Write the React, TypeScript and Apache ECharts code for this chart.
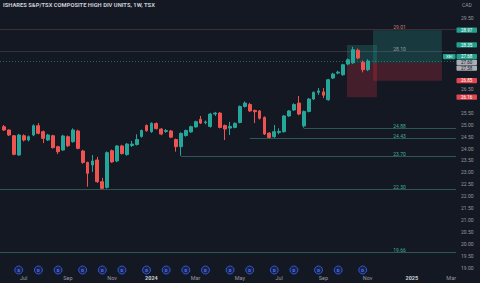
import React, { useEffect, useRef } from 'react';
import * as echarts from 'echarts';

// ---------- data ----------
const TITLE = 'ISHARES S&P/TSX COMPOSITE HIGH DIV UNITS, 1W, TSX';
const SYMBOL = 'XEI';
const CURRENCY = 'CAD';
const FIRST_BAR_UTC = Date.UTC(2023, 5, 5); // weekly bars, Monday
const TOTAL_BARS = 92; // includes future empty weeks

const opens = [
  24.92, 24.78, 24.54, 23.73, 24.54, 24.36, 24.57, 24.96, 24.71, 24.36,
  24.54, 24.08, 23.94, 24.50, 24.29, 24.74, 23.90, 23.42, 23.31, 23.52,
  22.61, 22.37, 23.91, 23.48, 24.11, 23.75, 24.13, 24.17, 24.51, 24.97,
  24.71, 25.05, 24.82, 24.72, 24.74, 24.38, 24.08, 24.55, 24.70, 24.91,
  25.23, 25.09, 24.93, 25.45, 25.49, 24.97, 24.86, 24.89, 25.10, 25.77,
  25.85, 25.60, 25.58, 25.31, 24.65, 24.50, 24.68, 24.71, 25.37, 25.62,
  25.91, 24.95, 25.56, 26.08, 26.36, 26.38, 26.05, 26.96, 27.17, 27.10,
  27.55, 27.60, 28.13, 27.62, 27.31,
];
const closes = [
  24.78, 24.57, 23.76, 24.57, 24.36, 24.50, 24.96, 24.64, 24.43, 24.57,
  24.04, 23.87, 24.53, 24.12, 24.78, 24.01, 23.42, 22.96, 23.48, 22.61,
  22.33, 23.83, 23.44, 24.11, 23.79, 24.19, 24.19, 24.38, 24.76, 24.75,
  25.06, 24.84, 24.61, 24.76, 24.48, 24.08, 24.64, 24.76, 24.92, 25.13,
  25.07, 25.12, 25.45, 25.49, 24.89, 24.82, 24.93, 25.06, 25.77, 25.91,
  25.58, 25.55, 25.27, 24.61, 24.47, 24.71, 24.72, 25.37, 25.58, 25.85,
  25.45, 25.56, 26.08, 26.36, 26.42, 26.24, 26.89, 27.13, 27.21, 27.52,
  27.73, 28.15, 27.80, 27.31, 27.68,
];
const lows = [
  24.74, 24.53, 23.72, 23.70, 24.30, 24.30, 24.52, 24.60, 24.23, 24.32,
  24.00, 23.77, 23.90, 24.06, 24.25, 23.97, 23.36, 22.40, 23.02, 22.56,
  22.30, 22.32, 23.40, 23.43, 23.75, 23.70, 24.07, 24.13, 24.46, 24.71,
  24.66, 24.80, 24.56, 24.66, 24.44, 23.87, 23.70, 24.50, 24.66, 24.88,
  25.03, 25.02, 24.88, 25.37, 24.85, 24.36, 24.57, 24.85, 25.06, 25.72,
  25.54, 25.07, 25.22, 24.57, 24.43, 24.45, 24.60, 24.67, 25.33, 25.58,
  25.40, 24.88, 25.52, 26.04, 26.25, 26.12, 26.01, 26.92, 27.12, 27.06,
  27.50, 27.56, 27.75, 27.20, 27.25,
];
const highs = [
  24.99, 24.80, 24.57, 24.62, 24.60, 24.55, 25.02, 25.07, 24.76, 24.62,
  24.58, 24.12, 24.58, 24.55, 24.85, 24.80, 23.95, 23.45, 23.73, 23.65,
  22.77, 23.88, 23.96, 24.15, 24.16, 24.23, 24.32, 24.60, 24.80, 25.01,
  25.10, 25.10, 24.86, 24.82, 24.78, 24.42, 24.68, 24.80, 24.96, 25.17,
  25.37, 25.18, 25.50, 25.54, 25.53, 25.01, 25.12, 25.10, 25.81, 25.98,
  25.92, 25.64, 25.62, 25.35, 24.69, 24.99, 24.85, 25.41, 25.62, 25.90,
  26.21, 25.60, 26.12, 26.40, 26.54, 26.54, 26.93, 27.18, 27.27, 27.56,
  27.78, 28.27, 28.20, 27.70, 27.75,
];

// bars carrying a dividend marker
const dividendBars = [3, 7, 11, 16, 20, 24, 29, 33, 37, 41, 46, 50, 55, 59, 64, 68, 73];

// price scale ticks
const priceTicks = [
  19.0, 19.5, 20.0, 20.5, 21.0, 21.5, 22.0, 22.5, 23.0, 23.5, 24.0,
  24.5, 25.0, 25.5, 26.0, 26.5, 27.0, 27.5, 28.0, 28.5, 29.0, 29.5,
];

// horizontal levels drawn on the chart
const levelValues = [29.01, 28.10, 24.88, 24.43, 23.70, 22.30, 19.66];
const levelStartBars = [-1, -1, 61, 50, 36, -1, -1];
const levelKinds = ['resist', 'neutral', 'support', 'support', 'support', 'support', 'support'];

// long-position tools
const positionStartBars = [69.8, 75.1];
const positionEndBars = [75.9, 89.1];
const positionEntries = [27.58, 27.60];
const positionTargets = [28.35, 28.97];
const positionStops = [26.16, 26.85];

// ---------- style ----------
const BG = '#141823';
const UP = '#26a69a';
const DOWN = '#ef5350';
const AXIS_TXT = '#9598a1';
const FONT = 'Roboto, "Liberation Sans", sans-serif';
const X_MIN = -0.814;
const X_MAX = 91.98;
const Y_MIN = 18.777;
const Y_MAX = 30.238;
const LABEL_BAR = 79.2;

const MONTHS = ['Jan', 'Feb', 'Mar', 'Apr', 'May', 'Jun', 'Jul', 'Aug', 'Sep', 'Oct', 'Nov', 'Dec'];

export default function App() {
  const ref = useRef<HTMLDivElement>(null);

  useEffect(() => {
    const el = ref.current!;
    const chart = echarts.init(el, null, { renderer: 'svg' });

    const dates = Array.from({ length: TOTAL_BARS }, (_, i) => new Date(FIRST_BAR_UTC + i * 7 * 86400000));
    const monthTicks: number[] = [];
    for (let i = 1; i < dates.length; i++) {
      const m = dates[i].getUTCMonth();
      if (m !== dates[i - 1].getUTCMonth() && m % 2 === 0) monthTicks.push(i);
    }

    const candles = opens.map((o, i) => [i, o, closes[i], lows[i], highs[i]]);

    const yAxisBase = {
      type: 'value',
      position: 'right',
      min: Y_MIN,
      max: Y_MAX,
      axisLine: { show: false },
      axisTick: { show: false },
      splitLine: { show: false },
    };

    chart.setOption({
      animation: false,
      backgroundColor: BG,
      textStyle: { fontFamily: FONT },
      grid: { left: 0, right: 24, top: 0, bottom: 10 },
      xAxis: {
        type: 'value',
        min: X_MIN,
        max: X_MAX,
        axisLine: { show: false },
        axisTick: { show: false },
        splitLine: { show: false },
        axisLabel: {
          customValues: monthTicks,
          margin: 2,
          color: AXIS_TXT,
          fontSize: 5.5,
          fontFamily: FONT,
          formatter: (v: number) => {
            const d = dates[Math.round(v)];
            const m = d.getUTCMonth();
            return m === 0 ? `{yr|${d.getUTCFullYear()}}` : MONTHS[m];
          },
          rich: { yr: { fontWeight: 'bold', color: '#c9ccd4', fontSize: 5.5, fontFamily: FONT } },
        },
      },
      yAxis: { ...yAxisBase, axisLabel: { show: false } },
      series: [
        {
          type: 'candlestick',
          data: candles,
          barWidth: 3.3,
          itemStyle: {
            color: UP,
            color0: DOWN,
            borderColor: UP,
            borderColor0: DOWN,
            borderWidth: 1,
          },
        },
      ],
    });

    const px = (i: number, v: number) => chart.convertToPixel({ gridIndex: 0 }, [i, v]) as number[];
    const rightEdge = px(X_MAX, Y_MIN)[0];
    const leftEdge = px(X_MIN, Y_MIN)[0];
    const bottomEdge = px(X_MIN, Y_MIN)[1];
    const labelX = px(LABEL_BAR, Y_MIN)[0];
    const els: any[] = [];

    // position boxes
    positionStartBars.forEach((s, k) => {
      const [x1, yT] = px(s, positionTargets[k]);
      const [x2, yE] = px(positionEndBars[k], positionEntries[k]);
      const yS = px(s, positionStops[k])[1];
      els.push({
        type: 'rect', z: 1, silent: true,
        shape: { x: x1, y: yT, width: x2 - x1, height: yE - yT },
        style: { fill: 'rgba(38,166,154,0.24)' },
      });
      els.push({
        type: 'rect', z: 1, silent: true,
        shape: { x: x1, y: yE, width: x2 - x1, height: yS - yE },
        style: { fill: 'rgba(242,54,69,0.22)' },
      });
    });

    // horizontal levels
    const lineColor: Record<string, string> = {
      resist: 'rgba(200,110,105,0.25)',
      neutral: 'rgba(150,152,160,0.22)',
      support: 'rgba(70,150,135,0.5)',
    };
    const textColor: Record<string, string> = {
      resist: '#c27c74',
      neutral: '#9a9ca5',
      support: '#3fae98',
    };
    levelValues.forEach((v, k) => {
      const kind = levelKinds[k];
      const start = Math.max(leftEdge, px(levelStartBars[k], v)[0]);
      const y = Math.round(px(0, v)[1]) + 0.5;
      els.push({
        type: 'line', z: 1, silent: true,
        shape: { x1: start, y1: y, x2: rightEdge, y2: y },
        style: { stroke: lineColor[kind], lineWidth: 1 },
      });
      els.push({
        type: 'text', z: 3, silent: true,
        x: labelX, y: y - 2.6,
        style: {
          text: v.toFixed(2), fill: textColor[kind], fontSize: 5, fontFamily: FONT,
          align: 'left', verticalAlign: 'middle',
        },
      });
    });

    // last price line
    const lastClose = closes[closes.length - 1];
    const yLast = Math.round(px(0, lastClose)[1]) + 0.5;
    els.push({
      type: 'line', z: 1, silent: true,
      shape: { x1: leftEdge, y1: yLast, x2: rightEdge, y2: yLast },
      style: { stroke: 'rgba(38,166,154,0.55)', lineWidth: 1, lineDash: [1, 2] },
    });

    // dividend markers
    dividendBars.forEach((b) => {
      const cx = px(b, Y_MIN)[0];
      const cy = bottomEdge - 3;
      els.push({
        type: 'circle', z: 4, silent: true,
        shape: { cx, cy, r: 4 },
        style: { fill: '#1a2246', stroke: '#2f5bea', lineWidth: 0.9 },
      });
      els.push({
        type: 'text', z: 5, silent: true,
        x: cx, y: cy + 0.2,
        style: {
          text: 'D', fill: '#5b7cff', fontSize: 4.2, fontWeight: 'bold', fontFamily: FONT,
          align: 'center', verticalAlign: 'middle',
        },
      });
    });

    // price scale tags
    type Tag = { v: number; bg: string; fg: string; sym?: string; y: number };
    const tags: Tag[] = [
      ...positionTargets.map((v) => ({ v, bg: '#22a08e', fg: '#ffffff', y: 0 })),
      { v: lastClose, bg: '#22a08e', fg: '#ffffff', sym: SYMBOL, y: 0 },
      ...positionEntries.map((v) => ({ v, bg: '#a9acb5', fg: '#131722', y: 0 })),
      ...positionStops.map((v) => ({ v, bg: '#e0474f', fg: '#ffffff', y: 0 })),
    ];
    tags.forEach((t) => (t.y = px(0, t.v)[1]));
    tags.sort((a, b) => a.y - b.y);
    const TH = 5.8;
    for (let it = 0; it < 80; it++) {
      let moved = false;
      for (let j = 1; j < tags.length; j++) {
        const d = tags[j].y - tags[j - 1].y;
        if (d < TH - 0.01) {
          const push = (TH - d) / 2;
          tags[j - 1].y -= push;
          tags[j].y += push;
          moved = true;
        }
      }
      if (!moved) break;
    }
    tags.forEach((t) => {
      els.push({
        type: 'rect', z: 20, silent: true,
        shape: { x: rightEdge + 0.5, y: t.y - TH / 2 + 0.3, width: 20.5, height: TH - 0.6, r: 0.8 },
        style: { fill: t.bg },
      });
      els.push({
        type: 'text', z: 21, silent: true,
        x: rightEdge + 10.75, y: t.y + 0.2,
        style: {
          text: t.v.toFixed(2), fill: t.fg, fontSize: 4.5, fontFamily: FONT,
          align: 'center', verticalAlign: 'middle',
        },
      });
      if (t.sym) {
        els.push({
          type: 'rect', z: 20, silent: true,
          shape: { x: rightEdge - 13, y: t.y - TH / 2 + 0.3, width: 12.5, height: TH - 0.6, r: 0.8 },
          style: { fill: t.bg },
        });
        els.push({
          type: 'text', z: 21, silent: true,
          x: rightEdge - 6.75, y: t.y + 0.2,
          style: {
            text: t.sym, fill: t.fg, fontSize: 4.4, fontFamily: FONT,
            align: 'center', verticalAlign: 'middle',
          },
        });
      }
    });

    // price-scale labels that are not hidden behind a tag
    const visibleTicks = priceTicks.filter((p) => {
      const y = px(0, p)[1];
      return tags.every((t) => Math.abs(t.y - y) > 5.6);
    });

    // currency & title
    els.push({
      type: 'text', z: 21, silent: true,
      x: rightEdge + 11, y: 5,
      style: { text: CURRENCY, fill: AXIS_TXT, fontSize: 5, fontFamily: FONT, align: 'center', verticalAlign: 'middle' },
    });
    els.push({
      type: 'text', z: 21, silent: true,
      x: 3, y: 5.2,
      style: {
        text: TITLE, fill: '#c9ccd4', fontSize: 5.8, fontWeight: 'bold', fontFamily: FONT,
        align: 'left', verticalAlign: 'middle',
      },
    });

    chart.setOption({
      yAxis: {
        ...yAxisBase,
        axisLabel: {
          show: true,
          customValues: visibleTicks,
          margin: 5,
          color: AXIS_TXT,
          fontSize: 5,
          fontFamily: FONT,
          formatter: (v: number) => v.toFixed(2),
        },
      },
      graphic: { elements: els },
    });

    return () => chart.dispose();
  }, []);

  return (
    <div
      ref={ref}
      style={{ position: 'fixed', left: 0, top: 0, width: 480, height: 283, background: BG }}
    />
  );
}
